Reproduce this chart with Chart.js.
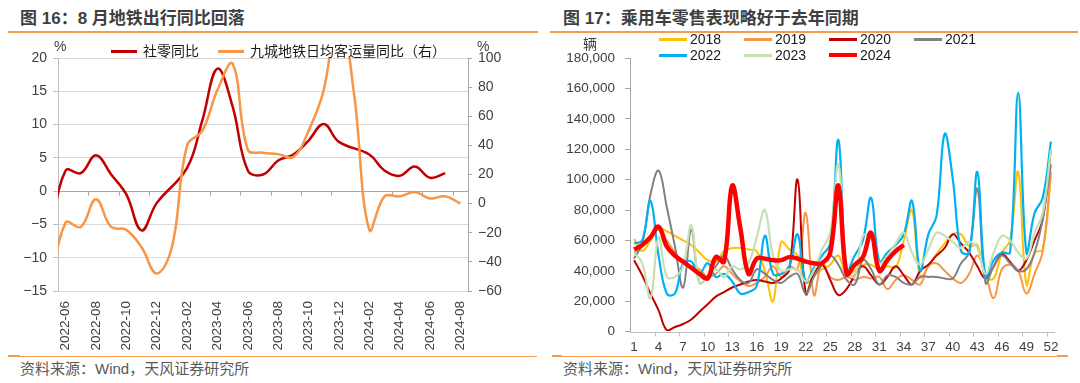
<!DOCTYPE html>
<html><head><meta charset="utf-8">
<script src="https://cdn.jsdelivr.net/npm/chart.js@4.4.1/dist/chart.umd.min.js"></script>
<style>
body{margin:0;background:#fff;}
#page{position:relative;width:1080px;height:383px;overflow:hidden;font-family:'Liberation Sans','Noto Sans CJK SC',sans-serif;background:#fff;}
.abs{position:absolute;white-space:nowrap;}
.title{font-size:17px;font-weight:bold;color:#3f3f3f;line-height:17px;}
.src{font-size:15px;color:#595959;line-height:15px;}
.rule{position:absolute;background:#F59B4C;}
.unit{font-size:14px;color:#404040;line-height:14px;}
.leg{position:absolute;font-size:14px;color:#1a1a1a;line-height:16px;white-space:nowrap;}
.leg .item{display:flex;align-items:center;height:16px;}
.leg .sw{display:inline-block;}
canvas{position:absolute;}
</style></head>
<body><div id="page">
<div class="abs title" style="left:20px;top:10px">图 16：8 月地铁出行同比回落</div>
<div class="abs title" style="left:563px;top:10px">图 17：乘用车零售表现略好于去年同期</div>
<div class="rule" style="left:8px;top:31px;width:530px;height:2px"></div>
<div class="rule" style="left:550px;top:31px;width:528px;height:2px"></div>
<div class="rule" style="left:8px;top:356px;width:529px;height:1px"></div>
<div class="rule" style="left:8px;top:355px;width:12px;height:2px"></div>
<div class="rule" style="left:552px;top:356px;width:516px;height:1px"></div>
<div class="rule" style="left:552px;top:355px;width:10px;height:2px"></div>
<div class="rule" style="left:1057px;top:355px;width:11px;height:2px"></div>
<div class="abs src" style="left:20px;top:361px">资料来源：Wind，天风证券研究所</div>
<div class="abs src" style="left:563px;top:361px">资料来源：Wind，天风证券研究所</div>
<canvas id="cL" width="540" height="320" style="left:0;top:34px;width:540px;height:320px"></canvas>
<canvas id="cR" width="540" height="320" style="left:540px;top:34px;width:540px;height:320px"></canvas>
<div class="abs unit" style="left:54px;top:39px">%</div>
<div class="abs unit" style="left:477px;top:39px">%</div>
<div class="abs unit" style="left:583px;top:37px">辆</div>
<div id="legL" class="leg" style="left:111px;top:43px;display:flex"></div>
<div id="legR" class="leg" style="left:659px;top:31px;display:grid;grid-template-columns:repeat(4,85px)"></div>
</div>
<script>
// ---------- Left chart data (monthly, %) ----------
const months = ['2022-05','2022-06','2022-07','2022-08','2022-09','2022-10','2022-11','2022-12',
  '2023-01','2023-02','2023-03','2023-04','2023-05','2023-06','2023-07','2023-08','2023-09','2023-10',
  '2023-11','2023-12','2024-01','2024-02','2024-03','2024-04','2024-05','2024-06','2024-07','2024-08'];
const monthTicks = ['2022-06','2022-08','2022-10','2022-12','2023-02','2023-04','2023-06','2023-08',
  '2023-10','2023-12','2024-02','2024-04','2024-06','2024-08'];
const retailYoY = [-6.7,3.1,2.7,5.4,2.5,-0.5,-5.9,-1.8,null,3.5,10.6,18.4,12.7,3.1,2.5,4.6,5.5,7.6,
  10.1,7.4,null,5.5,3.1,2.3,3.7,2.0,2.7,null];
const subwayYoY = [-60,-13,-16,3,-16,-18,-30,-48,-30,40,50,78,96,37,35,34,32,50,78,135,75,-18,5,5,8,3.5,5,0];

// ---------- Right chart data (weekly, 辆) ----------
const weeks = [1,2,3,4,5,6,7,8,9,10,11,12,13,14,15,16,17,18,19,20,21,22,23,24,25,26,
  27,28,29,30,31,32,33,34,35,36,37,38,39,40,41,42,43,44,45,46,47,48,49,50,51,52];
const weekTicks = [1,4,7,10,13,16,19,22,25,28,31,34,37,40,43,46,49,52];
const y2018 = [61000,53000,60000,68000,66000,63000,60000,57000,52000,47000,46000,53000,55000,55000,54000,53000,40000,20000,59000,54000,50000,32000,37000,41000,44000,50000,37000,40000,44000,44000,41000,43000,42000,60000,80000,36000,43000,51000,58000,64000,64000,56000,57000,36000,35000,52000,60000,105000,31000,52000,54000,102000];
const y2019 = [52000,56000,63000,67000,60000,52000,45000,43000,41000,36000,38000,43000,38000,33000,30000,32000,36000,43000,36000,43000,41000,78000,24000,45000,36000,34000,36000,34000,36000,35000,36000,28000,34000,37000,34000,31000,43000,45000,40000,35000,32000,38000,50000,38000,22000,41000,44000,40000,25000,38000,53000,105000];
const y2020 = [47000,37000,25000,14000,1000,3000,5000,8000,13000,18000,23000,26000,29000,31000,33000,34000,33000,32000,35000,41000,100000,25000,38000,44000,34000,24000,28000,37000,43000,37000,31000,36000,43000,37000,31000,40000,44000,50000,55000,64000,58000,52000,43000,35000,43000,51000,46000,40000,47000,60000,74000,120000];
const y2021 = [48000,58000,90000,106000,82000,56000,29000,67000,32000,36000,43000,50000,41000,34000,32000,41000,38000,34000,32000,36000,38000,25000,36000,44000,50000,44000,34000,31000,47000,41000,31000,37000,36000,32000,31000,36000,36000,36000,35000,35000,45000,52000,94000,32000,43000,50000,45000,40000,41000,52000,74000,110000];
const y2022 = [58000,60000,86000,50000,25000,25000,45000,46000,38000,45000,36000,38000,33000,25000,26000,30000,63000,38000,38000,43000,64000,33000,42000,50000,58000,126000,40000,50000,60000,88000,46000,52000,57000,64000,86000,40000,64000,76000,130000,100000,53000,52000,105000,36000,47000,52000,52000,157000,52000,78000,88000,125000];
const y2023 = [52000,45000,22000,62000,36000,36000,43000,70000,32000,36000,41000,36000,43000,41000,45000,62000,80000,50000,40000,41000,41000,33000,40000,54000,65000,110000,43000,36000,63000,62000,45000,50000,58000,65000,52000,44000,54000,65000,63000,59000,55000,59000,55000,38000,52000,63000,60000,52000,48000,65000,78000,120000];
const y2024 = [54000,57000,62000,69000,56000,50000,46000,42000,38000,35000,49000,46000,96000,68000,38000,48000,48000,47000,47000,49000,48000,46000,45000,45000,52000,96000,38000,44000,49000,65000,40000,47000,53000,57000];

Chart.defaults.font.family = "'Liberation Sans','Noto Sans CJK SC',sans-serif";
Chart.defaults.color = '#404040';

const axisMarks = {
  id: 'axisMarks',
  beforeDatasetsDraw(chart, args, o) {
    const {ctx, chartArea: a, scales} = chart;
    const y0 = Math.round(scales[o.yId].getPixelForValue(0)) + 0.5;
    ctx.save();
    ctx.strokeStyle = o.color;
    ctx.lineWidth = 1;
    ctx.beginPath();
    ctx.moveTo(a.left, y0); ctx.lineTo(a.right, y0);
    o.marks.forEach(v => {
      const x = Math.round(scales.x.getPixelForValue(v)) + 0.5;
      ctx.moveTo(x, y0); ctx.lineTo(x, y0 + o.len);
    });
    ctx.stroke();
    ctx.restore();
  }
};
const minus = v => (v < 0 ? '\u2212' : '') + Math.abs(v);

// ---------- Left chart ----------
const leftMarks = [];
for (let v = 2.5; v < 27.5; v += 2) leftMarks.push(v);
const chartL = new Chart(document.getElementById('cL'), {
  type: 'line',
  data: { datasets: [
    { label: '社零同比', data: months.map((m, i) => ({x: i, y: retailYoY[i]})), yAxisID: 'y',
      borderColor: '#C00000', backgroundColor: '#C00000', borderWidth: 2.5, pointRadius: 0,
      tension: 0.4, spanGaps: true, order: 1 },
    { label: '九城地铁日均客运量同比（右）', data: months.map((m, i) => ({x: i, y: subwayYoY[i]})), yAxisID: 'y1',
      borderColor: '#F79646', backgroundColor: '#F79646', borderWidth: 2.5, pointRadius: 0,
      tension: 0.4, spanGaps: true, order: 0 }
  ]},
  options: {
    responsive: false, animation: false, events: [],
    layout: { padding: { top: 24, left: 0, right: 0, bottom: 0 } },
    elements: { line: { capBezierPoints: false } },
    plugins: { legend: { display: false }, tooltip: { enabled: false },
      axisMarks: { yId: 'y', marks: leftMarks, len: 4, color: '#A6A6A6' } },
    scales: {
      x: { type: 'linear', min: 0.5, max: 27.5,
        grid: { display: false, drawTicks: false }, border: { display: false },
        afterBuildTicks: s => { s.ticks = monthTicks.map(t => ({ value: months.indexOf(t) })); },
        ticks: { autoSkip: false, minRotation: 90, maxRotation: 90, padding: 10,
          font: { size: 13.5 }, color: '#404040', callback: v => months[v] },
        afterFit: s => { s.height = 63; } },
      y: { position: 'left', min: -15, max: 20,
        ticks: { stepSize: 5, padding: 6, font: { size: 14 }, callback: minus },
        grid: { color: '#D9D9D9', tickLength: 5, tickColor: '#BFBFBF' },
        border: { color: '#BFBFBF' },
        afterFit: s => { s.width = 58; } },
      y1: { position: 'right', min: -60, max: 100,
        ticks: { stepSize: 10, padding: 6, font: { size: 14 }, callback: v => (v % 20 === 0 ? minus(v) : '') },
        grid: { drawOnChartArea: false, tickLength: 4, color: '#A6A6A6' },
        border: { color: '#A6A6A6' },
        afterFit: s => { s.width = 72; } }
    }
  },
  plugins: [axisMarks]
});

// ---------- Right chart ----------
const rightMarks = [];
for (let v = 3.5; v < 52.5; v += 3) rightMarks.push(v);
const series = [
  { label: '2018', values: y2018, color: '#FFC000', width: 2 },
  { label: '2019', values: y2019, color: '#F79646', width: 2 },
  { label: '2020', values: y2020, color: '#C00000', width: 2 },
  { label: '2021', values: y2021, color: '#808080', width: 2 },
  { label: '2022', values: y2022, color: '#00B0F0', width: 2.2 },
  { label: '2023', values: y2023, color: '#C5E0B3', width: 2.2 },
  { label: '2024', values: y2024, color: '#FF0000', width: 4.5 }
];
const chartR = new Chart(document.getElementById('cR'), {
  type: 'line',
  data: { datasets: series.map((s, k) => ({
    label: s.label, data: s.values.map((v, i) => ({ x: weeks[i], y: v })),
    borderColor: s.color, backgroundColor: s.color, borderWidth: s.width, pointRadius: 0,
    tension: 0.4, order: series.length - k })) },
  options: {
    responsive: false, animation: false, events: [],
    layout: { padding: { top: 24, left: 0, right: 25, bottom: 0 } },
    plugins: { legend: { display: false }, tooltip: { enabled: false },
      axisMarks: { yId: 'y', marks: rightMarks, len: 4, color: '#BFBFBF' } },
    scales: {
      x: { type: 'linear', min: 0.5, max: 52.5,
        grid: { display: false, drawTicks: false }, border: { display: false },
        afterBuildTicks: s => { s.ticks = weekTicks.map(w => ({ value: w })); },
        ticks: { autoSkip: false, maxRotation: 0, minRotation: 0, padding: 8,
          font: { size: 13.5 }, callback: v => String(v) },
        afterFit: s => { s.height = 22.4; } },
      y: { min: 0, max: 180000,
        ticks: { stepSize: 20000, padding: 10, font: { size: 13.5 },
          callback: v => v.toLocaleString('en-US') },
        grid: { drawOnChartArea: false, tickLength: 5, color: '#A6A6A6' },
        border: { color: '#A6A6A6' },
        afterFit: s => { s.width = 90; } }
    }
  },
  plugins: [axisMarks]
});

// ---------- HTML legends generated from the datasets ----------
function buildLegend(el, chart, cfg) {
  chart.data.datasets.forEach((ds, i) => {
    const item = document.createElement('div');
    item.className = 'item';
    if (cfg.gap && i < chart.data.datasets.length - 1) item.style.marginRight = cfg.gap + 'px';
    const sw = document.createElement('span');
    sw.className = 'sw';
    sw.style.width = cfg.sw + 'px';
    sw.style.height = (ds.borderWidth >= 4 ? 4 : 3) + 'px';
    sw.style.background = ds.borderColor;
    sw.style.marginRight = cfg.sg + 'px';
    const tx = document.createElement('span');
    tx.textContent = ds.label;
    item.appendChild(sw); item.appendChild(tx);
    el.appendChild(item);
  });
}
buildLegend(document.getElementById('legL'), chartL, { sw: 26, sg: 6, gap: 19 });
buildLegend(document.getElementById('legR'), chartR, { sw: 28, sg: 3 });
</script>
</body></html>
